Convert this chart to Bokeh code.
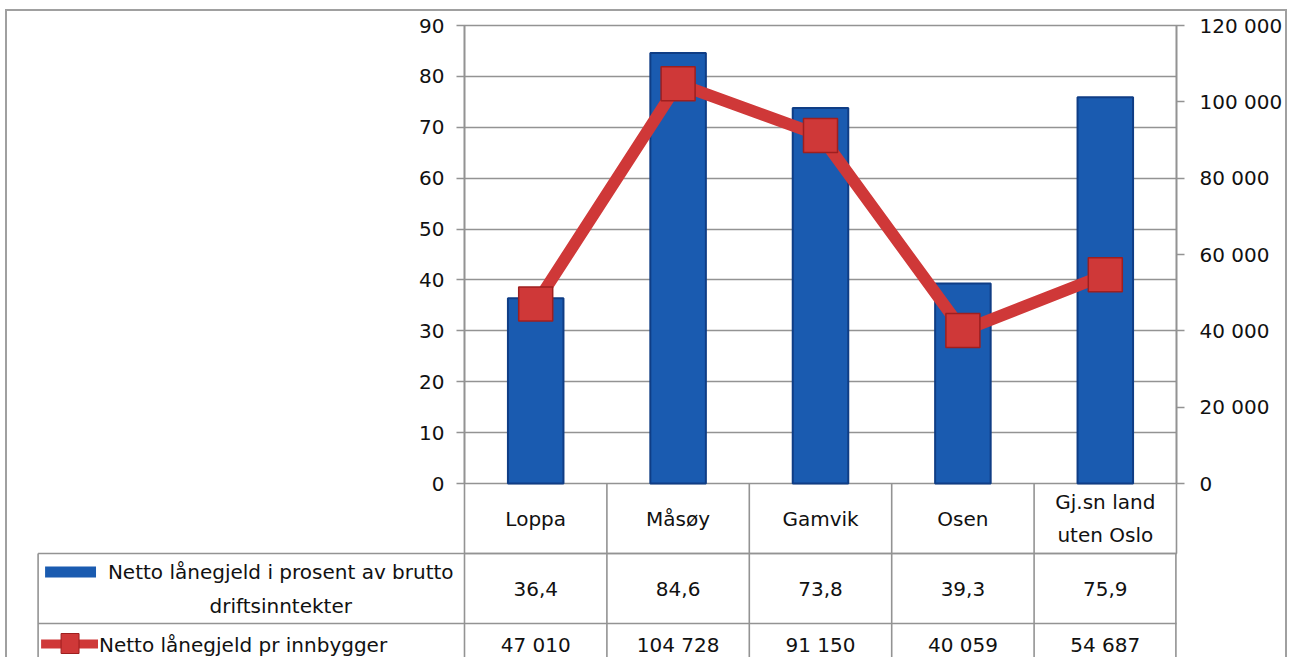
from bokeh.plotting import figure
from bokeh.models import Range1d, LinearAxis, FixedTicker
from bokeh.layouts import column
from bokeh.embed import file_html
from bokeh.resources import INLINE
from bokeh.core.properties import value

# ---------------- data ----------------
categories = ["Loppa", "Måsøy", "Gamvik", "Osen", "Gj.sn land\nuten Oslo"]
bar_values = [36.4, 84.6, 73.8, 39.3, 75.9]
line_values = [47010, 104728, 91150, 40059, 54687]
bar_series_name = "Netto lånegjeld i prosent av brutto\ndriftsinntekter"
line_series_name = "Netto lånegjeld pr innbygger"
left_ticks = [0, 10, 20, 30, 40, 50, 60, 70, 80, 90]
right_ticks = [0, 20000, 40000, 60000, 80000, 100000, 120000]
right_tick_labels = ["0", "20 000", "40 000", "60 000", "80 000", "100 000", "120 000"]

# ---------------- layout constants (page pixels) ----------------
FONT_NAME = "DejaVu Sans"
FONT = value(FONT_NAME)
FS = "20px"
GRAY = "#939393"
TXT = "#111111"
BLUE = "#1a5bb0"
BLUE_EDGE = "#0f3d85"
RED = "#cf3838"
RED_EDGE = "#9e1f1f"

CANVAS_X0 = 7
CANVAS_Y0 = 11
W = 1278
H = 646
FRAME_L = 464
FRAME_R = 1177
FRAME_T = 25
ZERO_Y = 483
ROW1_B = 553
ROW2_B = 623
LEG_L = 37

n = len(categories)
xs = list(range(n))
unit = (FRAME_R - FRAME_L) / n
plot_px = ZERO_Y - FRAME_T
ymax = left_ticks[-1]
rmax = right_ticks[-1]
ymin = -(ROW1_B - ZERO_Y) * ymax / plot_px
rmin = -(ROW1_B - ZERO_Y) * rmax / plot_px


def px2x(page_x):
    return -0.5 + (page_x - FRAME_L) / unit


def py2y(page_y):
    return (ZERO_Y - page_y) * ymax / plot_px


p = figure(width=W, height=H,
           x_range=Range1d(-0.5, n - 0.5), y_range=Range1d(ymin, ymax),
           output_backend="svg", toolbar_location=None,
           x_axis_location=None,
           min_border_left=FRAME_L - CANVAS_X0,
           min_border_right=CANVAS_X0 + W - FRAME_R,
           min_border_top=FRAME_T - CANVAS_Y0,
           min_border_bottom=CANVAS_Y0 + H - ROW1_B)
p.background_fill_color = "white"
p.border_fill_color = "white"
p.outline_line_color = GRAY
p.outline_line_width = 1.6
p.xgrid.visible = False
p.ygrid.ticker = FixedTicker(ticks=left_ticks)
p.ygrid.grid_line_color = GRAY
p.ygrid.grid_line_width = 1.6

ya = p.yaxis[0]
ya.ticker = FixedTicker(ticks=left_ticks)
ya.bounds = (0, ymax)

p.extra_y_ranges = {"right": Range1d(rmin, rmax)}
ra = LinearAxis(y_range_name="right", ticker=FixedTicker(ticks=right_ticks),
                major_label_overrides={t: l for t, l in zip(right_ticks, right_tick_labels)},
                bounds=(0, rmax))
p.add_layout(ra, "right")

for ax in [ya, ra]:
    ax.axis_line_color = GRAY
    ax.axis_line_width = 1.6
    ax.major_tick_line_color = GRAY
    ax.major_tick_line_width = 1.6
    ax.major_tick_out = 8
    ax.major_tick_in = 0
    ax.minor_tick_line_color = None
    ax.major_label_text_font = FONT_NAME
    ax.major_label_text_font_size = FS
    ax.major_label_text_color = TXT
ya.major_label_standoff = 12
ra.major_label_standoff = 15

# ---------------- chart marks ----------------
p.vbar(x=xs, top=bar_values, bottom=0, width=0.39,
       fill_color=BLUE, line_color=BLUE_EDGE, line_width=2)
p.line(xs, line_values, y_range_name="right", line_color=RED, line_width=12)
p.scatter(xs, line_values, y_range_name="right", marker="square", size=34,
          fill_color=RED, line_color=RED_EDGE, line_width=1.5)

# ---------------- data table ----------------
bottom_y = py2y(CANVAS_Y0 + H + 5)
col_x = [i + 0.5 for i in xs[:-1]]
# category row dividers
p.segment(x0=col_x, y0=[0] * len(col_x), x1=col_x, y1=[ymin] * len(col_x),
          line_color=GRAY, line_width=1.6)
# lower rows: vertical lines (drawn below the frame)
nudge = 0.6 / unit
vx = [px2x(LEG_L)] + [i - 0.5 for i in xs] + [n - 0.5 - nudge]
for v in vx:
    r = p.line(x=[v, v], y=[ymin, bottom_y], line_color=GRAY, line_width=1.6)
    r.level = "overlay"
for h in [ymin, py2y(ROW2_B)]:
    r = p.line(x=[px2x(LEG_L), n - 0.5], y=[h, h], line_color=GRAY, line_width=1.6)
    r.level = "overlay"

p.text(x=xs, y=[ymin / 2] * n, text=categories, text_font=FONT,
       text_font_size=FS, text_align="center", text_baseline="middle",
       text_color=TXT, text_line_height=1.4)

bar_labels = [f"{v:.1f}".replace(".", ",") for v in bar_values]
line_labels = [f"{v:,}".replace(",", " ") for v in line_values]
row2_y = py2y((ROW1_B + ROW2_B) / 2)
row3_y = py2y(644)
r = p.text(x=xs, y=[row2_y] * n, text=bar_labels, text_font=FONT, text_font_size=FS,
           text_align="center", text_baseline="middle", text_color=TXT)
r.level = "overlay"
r = p.text(x=xs, y=[row3_y] * n, text=line_labels, text_font=FONT, text_font_size=FS,
           text_align="center", text_baseline="middle", text_color=TXT)
r.level = "overlay"

# legend keys inside the table
r = p.text(x=[px2x(280)], y=[py2y(588.5)], text=[bar_series_name], text_font=FONT,
           text_font_size=FS, text_align="center", text_baseline="middle",
           text_color=TXT, text_line_height=1.38)
r.level = "overlay"
r = p.quad(left=[px2x(44)], right=[px2x(95)], top=[py2y(566)], bottom=[py2y(577)],
           fill_color=BLUE, line_color=None)
r.level = "overlay"
r = p.text(x=[px2x(98)], y=[row3_y], text=[line_series_name], text_font=FONT,
           text_font_size=FS, text_align="left", text_baseline="middle", text_color=TXT)
r.level = "overlay"
r = p.quad(left=[px2x(40)], right=[px2x(97)], top=[py2y(639)], bottom=[py2y(648)],
           fill_color=RED, line_color=None)
r.level = "overlay"
r = p.quad(left=[px2x(60)], right=[px2x(78)], top=[py2y(633)], bottom=[py2y(653)],
           fill_color=RED, line_color=RED_EDGE, line_width=1)
r.level = "overlay"

layout = column(p, styles={"margin-left": "5px", "margin-top": "9px",
                           "border-left": "2px solid #a0a0a0",
                           "border-right": "2px solid #a0a0a0",
                           "border-top": "2px solid #a0a0a0"})

open("out.html", "w").write(file_html(layout, INLINE))
